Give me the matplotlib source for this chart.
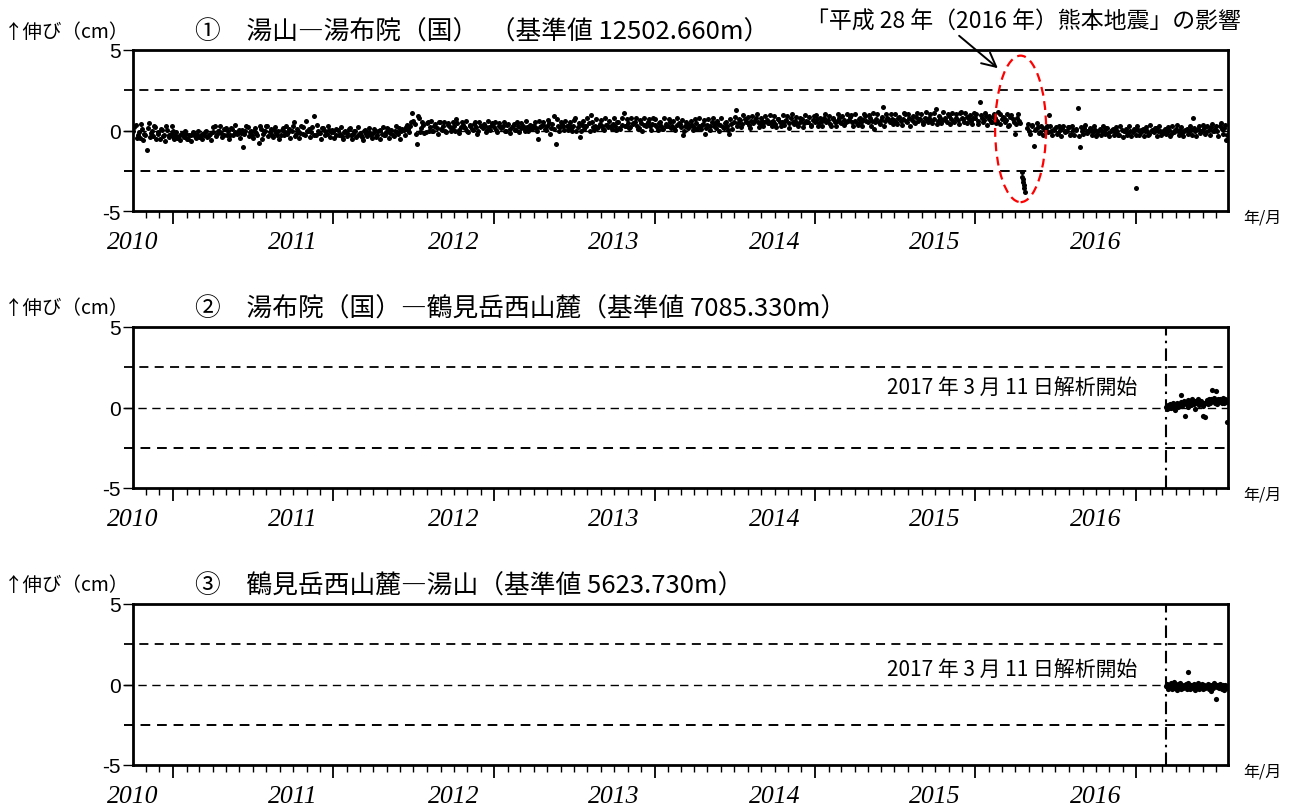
import matplotlib
matplotlib.use("Agg")
import matplotlib.pyplot as plt
import matplotlib.dates as mdates
from matplotlib.patches import Ellipse
from matplotlib.transforms import blended_transform_factory
import datetime as dt
import pandas as pd

plt.rcParams['font.family'] = ['Noto Sans CJK JP', 'DejaVu Sans']

# ---------------- data (extension in cm) ----------------
# panel 1: 湯山―湯布院（国）, one value every 5 days from the start date (series a)
p1_2010_start = '2010-10-03'
p1_2010 = [-0.05, 0.35, -0.3, -0.45, 0.1, -0.2, -1.2, 0.45, -0.15, -0.35, 0.2, -0.1,
           -0.5, 0.05, -0.25, 0.3, -0.4, -0.2, 0.0]
p1_2011_start = '2011-01-01'
p1_2011 = [-0.35, -0.25, -0.45, -0.3, -0.15, -0.4, -0.2, -0.5, -0.3, -0.1, -0.35, -0.25,
           -0.4, -0.2, -0.3, -0.05, -0.35, -0.2,
           -0.1, 0.3, -0.2, 0.0, -0.15, -0.3, 0.15, -0.05, -0.25, 0.1, -0.1, -0.2,
           0.05, -0.15, -1.0, -0.05, 0.2, -0.1,
           -0.3, 0.0, -0.15, -0.75, 0.1, -0.2, -0.05, 0.25, -0.1, -0.25, 0.05, -0.15,
           0.0, -0.3, 0.15, -0.1, -0.2, 0.1,
           -0.05, 0.5, -0.2, 0.0, -0.15, 0.2, -0.3, -0.05, 0.1, -0.1, 0.9, -0.25,
           0.0, -0.15, 0.15, -0.05, -0.2, 0.05, -0.1]
p1_2012_start = '2012-01-01'
p1_2012 = [-0.1, -0.25, 0.05, -0.2, -0.35, -0.1, -0.15, 0.1, -0.3, -0.2, -0.05, -0.25,
           -0.15, -0.4, 0.0, -0.2, -0.1, -0.3,
           -0.15, -0.05, -0.25, 0.05, -0.2, -0.3, -0.1, 0.1, -0.15, -0.25, 0.0, -0.1,
           0.15, -0.05, 0.05, 0.2, 0.1, 0.3,
           1.1, 0.4, -0.85, 0.8, 0.15, 0.35, -0.1, 0.5, 0.2, 0.0, 0.3, 0.15,
           0.55, 0.1, 0.25, -0.05, 0.35, 0.2,
           0.1, 0.3, 0.7, 0.05, 0.2, 0.35, 0.15, -0.05, 0.25, 0.1, 0.4, 0.2,
           0.0, 0.3, 0.15, 0.25, 0.05, 0.2, 0.35]
p1_2013_start = '2013-01-01'
p1_2013 = [0.2, 0.05, 0.3, 0.15, 0.25, 0.0, 0.35, 0.1, 0.2, 0.4, 0.05, 0.25,
           0.15, 0.3, -0.05, 0.2, 0.1, 0.25,
           0.3, 0.15, -0.5, 0.2, 0.35, 0.1, 0.25, 0.45, 0.15, 0.9, -0.85, 0.3,
           0.2, 0.4, 0.05, 0.25, 0.35, 0.15,
           0.3, 0.8, 0.2, -0.4, 0.35, 0.1, 0.25, 0.45, 0.95, 0.2, 0.3, 0.15,
           0.4, 0.25, 0.05, 0.35, 0.2, 0.3,
           0.4, 0.25, 0.5, 0.15, 0.35, 1.1, 0.3, 0.45, 0.2, 0.4, 0.55, 0.3,
           0.15, 0.45, 0.35, 0.25, 0.5, 0.3, 0.4]
p1_2014_start = '2014-01-01'
p1_2014 = [0.35, 0.2, 0.45, 0.3, 0.1, 0.4, 0.25, 0.5, 0.3, 0.15, 0.35, 0.45,
           0.2, -0.3, 0.3, 0.4, 0.25, 0.35,
           0.2, 0.45, 0.3, 0.1, 0.4, -0.2, 0.35, 0.25, 0.5, 0.3, 0.15, 0.4,
           0.35, 0.2, 0.45, 0.3, -0.2, 0.4,
           0.55, 1.25, 0.45, 0.65, 0.4, 0.7, 0.5, 0.35, 0.6, 0.45, 0.75, 0.55,
           0.4, 0.6, 0.5, 0.65, 0.45, 0.55,
           0.6, 0.4, 0.7, 0.5, 0.55, 0.35, 0.65, 0.45, 0.8, 0.5, 0.6, 0.4,
           0.55, 0.7, 0.45, 0.6, 0.5, 0.35, 0.65]
p1_2015_start = '2015-01-01'
p1_2015 = [0.55, 0.7, 0.45, 0.6, 0.8, 0.5, 0.65, 0.4, 0.7, 0.55, 0.6, 0.75,
           0.45, 0.65, 0.5, 0.6, 0.85, 0.55,
           0.6, 0.45, 0.7, 0.55, 0.65, 0.9, 0.5, 0.75, 0.6, 0.1, 0.7, 0.55,
           0.65, 1.45, 0.6, 0.8, 0.5, 0.7,
           0.65, 0.55, 0.8, 0.6, 0.7, 1.0, 0.5, 0.75, 0.65, 0.55, 0.85, 0.6,
           0.7, 0.5, 0.8, 0.65, 0.75, 0.6,
           0.7, 1.35, 0.6, 0.8, 0.65, 0.75, 0.55, 0.9, 0.7, 0.6, 0.8, 0.65,
           1.1, 0.75, 0.55, 0.85, 0.7, 0.6, 0.8]
p1_2016a_start = '2016-01-01'
p1_2016a = [0.75, 0.6, 1.75, 0.8, 0.65, 0.9, 0.7, 0.55, 0.85, 0.75, 0.6, 1.0,
            0.7, 0.8, 0.65, 0.3, 0.85, 0.7, -0.2, 0.75, 0.6]
# daily values right after the 2016 Kumamoto earthquake
p1_quake_start = '2016-04-16'
p1_quake = [-2.6, -2.9, -3.2, -3.0, -3.4, -3.6, -3.85]
p1_2016b_start = '2016-04-28'
p1_2016b = [0.15, 0.0, 0.25, -0.95, 0.1, 0.2, -0.1, 0.15, 0.05, 0.3,
            0.95, -0.05, 0.1, 0.2, -0.15, 0.05, 0.15, -0.1, 0.0, 0.2,
            -0.2, 0.05, 0.1, 1.4, -1.0, -0.05, 0.15, -0.15, 0.0, 0.1,
            -0.1, 0.05, -0.2, 0.1, -0.05, 0.0, 0.15, -0.15, -0.05, 0.1,
            -0.1, 0.0, -0.25, 0.05, -0.05, 0.1, -0.15, 0.0, -0.1, 0.05]
p1_2017_start = '2017-01-01'
p1_2017 = [-3.55, 0.05, -0.1, 0.1, -0.05, 0.0, -0.2, 0.05, -0.1, 0.15,
           -0.05, 0.0, -0.15, 0.1, -0.1, 0.05, -0.2, 0.0, 0.1, -0.05,
           0.05, -0.15, 0.0, 0.1, -0.1, 0.05, 0.8, -0.05, 0.1, -0.15,
           0.0, 0.15, -0.1, 0.05, 0.2, 0.0, 0.1, -0.05, 0.25, 0.1, 0.15, -0.6]

# panel 1, series b: the in-between days (also every 5 days, starting 2 days later)
p1b_2010_start = '2010-10-05'
p1b_2010 = [0.2, -0.45, -0.1, 0.4, -0.6, -0.25, 0.15, -0.4, -0.05, 0.3, -0.55, -0.2,
            0.1, -0.35, -0.65, 0.05, -0.3, 0.25, -0.45]
p1b_2011_start = '2011-01-03'
p1b_2011 = [-0.55, -0.1, -0.4, -0.6, -0.2, -0.05, -0.5, -0.3, -0.65, -0.15, -0.45, 0.0,
            -0.35, -0.55, -0.1, -0.4, -0.25, -0.6,
            0.2, -0.35, -0.05, 0.25, -0.4, 0.1, -0.25, -0.5, 0.15, -0.3, 0.35, -0.15,
            -0.45, 0.05, -0.2, 0.3, -0.35, 0.0,
            -0.45, 0.15, -0.3, 0.25, -0.5, -0.05, 0.3, -0.35, 0.1, -0.4, 0.2, -0.25,
            -0.55, 0.05, -0.3, 0.25, -0.1, -0.45,
            0.25, -0.35, 0.1, -0.45, 0.3, -0.2, 0.6, -0.05, -0.4, 0.2, -0.3, 0.35,
            -0.15, -0.5, 0.15, -0.25, 0.3, -0.4, 0.05]
p1b_2012_start = '2012-01-03'
p1b_2012 = [-0.45, 0.1, -0.3, 0.2, -0.5, -0.05, -0.35, 0.15, -0.55, 0.0, -0.4, 0.2,
            -0.25, -0.6, 0.05, -0.35, 0.15, -0.45,
            0.1, -0.4, -0.05, -0.5, 0.2, -0.3, 0.15, -0.45, 0.05, -0.35, 0.25, -0.2,
            -0.5, 0.1, -0.25, 0.35, -0.1, 0.5,
            0.6, -0.2, 0.9, -0.1, 0.5, -0.15, 0.45, 0.0, 0.6, -0.05, 0.4, -0.2,
            0.5, 0.05, 0.55, -0.1, 0.45, 0.0,
            0.5, -0.05, 0.45, -0.15, 0.55, 0.2, 0.6, -0.1, 0.35, 0.05, 0.5, -0.2,
            0.55, 0.25, 0.4, -0.1, 0.6, 0.05, 0.45]
p1b_2013_start = '2013-01-03'
p1b_2013 = [0.5, -0.1, 0.45, 0.2, 0.55, 0.0, 0.4, -0.15, 0.3, 0.05, 0.55, -0.1,
            0.45, 0.15, 0.6, -0.05, 0.35, 0.1,
            0.55, 0.0, 0.6, 0.25, 0.5, 0.05, 0.65, -0.2, 0.4, 0.1, 0.7, 0.0,
            0.5, 0.3, 0.6, 0.05, 0.55, -0.05,
            0.65, 0.0, 0.45, -0.05, 0.6, 0.3, 0.75, 0.0, 0.55, 0.05, 0.7, 0.2,
            0.65, 0.1, 0.75, 0.35, 0.6, 0.1,
            0.75, 0.05, 0.55, 0.1, 0.8, 0.3, 0.7, 0.15, 0.75, 0.45, 0.8, 0.1,
            0.65, 0.0, 0.75, 0.4, 0.7, 0.05, 0.8]
p1b_2014_start = '2014-01-03'
p1b_2014 = [0.7, 0.05, 0.5, 0.1, 0.75, 0.3, 0.7, 0.15, 0.6, 0.05, 0.75, 0.4,
            0.65, 0.0, 0.55, 0.15, 0.6, 0.05,
            0.7, 0.1, 0.75, 0.35, 0.65, 0.15, 0.7, 0.05, 0.8, 0.45, 0.6, 0.0,
            0.75, 0.15, 0.55, 0.05, 0.7, 0.1,
            0.85, 0.25, 0.7, 0.2, 0.95, 0.5, 0.85, 0.15, 0.9, 0.6, 1.0, 0.2,
            0.75, 0.3, 0.9, 0.45, 0.95, 0.25,
            0.9, 0.2, 0.7, 0.3, 0.95, 0.6, 0.9, 0.15, 1.0, 0.4, 0.85, 0.3,
            0.75, 0.2, 0.95, 0.55, 0.85, 0.3, 0.9]
p1b_2015_start = '2015-01-03'
p1b_2015 = [0.95, 0.3, 0.75, 0.25, 1.0, 0.6, 0.9, 0.3, 0.8, 0.25, 1.05, 0.5,
            0.9, 0.35, 1.0, 0.65, 0.95, 0.3,
            1.0, 0.35, 0.8, 0.3, 1.05, 0.6, 0.95, 0.3, 1.1, 0.5, 1.0, 0.4,
            0.85, 0.3, 1.05, 0.7, 1.0, 0.4,
            1.05, 0.4, 0.85, 0.35, 1.1, 0.6, 1.05, 0.3, 0.9, 0.45, 1.1, 0.7,
            1.05, 0.4, 1.15, 0.55, 1.0, 0.45,
            1.1, 0.4, 0.9, 0.45, 1.15, 0.65, 1.05, 0.4, 1.1, 0.5, 1.0, 0.4,
            1.15, 0.7, 1.1, 0.45, 0.95, 0.4, 1.1]
p1b_2016a_start = '2016-01-03'
p1b_2016a = [1.05, 0.4, 0.95, 0.5, 1.1, 0.35, 0.9, 0.55, 1.0, 0.45, 1.15, 0.4,
             0.85, 0.5, 1.05, 0.35, 0.95, 0.55, 0.4, 1.0, 0.45]
p1b_2016b_start = '2016-04-30'
p1b_2016b = [0.4, -0.2, 0.35, 0.05, 0.45, -0.15, 0.3, -0.25, 0.15, -0.1,
             0.3, -0.3, 0.05, -0.2, 0.25, -0.35, 0.3, 0.0, 0.2, -0.3,
             0.3, -0.25, 0.05, -0.35, 0.2, -0.2, 0.35, -0.05, 0.15, -0.25,
             0.25, -0.35, 0.0, -0.3, 0.3, -0.2, 0.15, -0.35, 0.05, -0.25,
             0.2, -0.3, 0.3, -0.4, 0.0, -0.25, 0.25, -0.35, 0.1, -0.3]
p1b_2017_start = '2017-01-03'
p1b_2017 = [0.3, -0.3, 0.05, -0.35, 0.2, -0.25, 0.35, -0.05, 0.15, -0.35,
            0.25, -0.3, 0.0, -0.2, 0.2, -0.35, 0.25, -0.1, 0.35, -0.25,
            0.2, -0.35, 0.05, -0.2, 0.25, -0.3, 0.15, -0.35, 0.3, 0.0,
            0.35, -0.2, 0.25, -0.3, 0.4, -0.05, 0.3, -0.35, 0.45, -0.2, 0.35, -0.3]

# panels 2 and 3: one value every 2 days since analysis start (2017-03-11)
analysis_start = '2017-03-11'
p2_vals = [0.05, -0.1, 0.15, 0.0, 0.2, -0.05, 0.1, 0.25, 0.0, 0.15, -0.15, 0.1, 0.3, 0.05, 0.2,
           0.15, 0.35, 0.8, 0.1, 0.25, 0.4, -0.5, 0.2, 0.3, 0.05, 0.45, 0.25, 0.35, 0.15, 0.5,
           0.3, 0.2, 0.4, -0.1, 0.35, 0.25, 0.5, 0.15, 0.3, 0.4, 0.2, 0.1, -0.5, 0.25, -0.6,
           0.3, 0.45, 0.2, 0.55, 0.35, 0.25, 0.5, 1.1, 0.4, 0.6, 0.3, 1.0, 0.45, 0.2, 0.5,
           0.35, 0.55, 0.4, 0.3, 0.6, 0.25, 0.45, 0.5, 0.35, -0.9]
p3_vals = [-0.1, 0.05, -0.25, 0.0, -0.15, 0.1, -0.3, -0.05, 0.15, -0.2, 0.0, -0.1, -0.35, 0.05, -0.15,
           0.1, -0.25, -0.05, 0.0, -0.2, -0.1, -0.05, 0.05, -0.3, 0.75, 0.1, -0.05, -0.25, 0.0, -0.1,
           -0.2, 0.05, -0.15, -0.35, 0.0, -0.1, 0.1, -0.25, -0.05, -0.15, 0.05, -0.3, -0.1, 0.0, -0.2,
           -0.1, -0.1, 0.05, -0.25, -0.15, 0.0, -0.4, -0.05, -0.2, 0.1, -0.1, -0.9, 0.0, -0.15, -0.05,
           -0.2, 0.05, -0.1, -0.25, 0.0, -0.15, -0.35, -0.05, -0.1, -0.2]

titles = ['①　湯山―湯布院（国）  （基準値 12502.660m）',
          '②　湯布院（国）―鶴見岳西山麓（基準値 7085.330m）',
          '③　鶴見岳西山麓―湯山（基準値 5623.730m）']
year_labels = ['2010', '2011', '2012', '2013', '2014', '2015', '2016']
quake_note = '「平成 28 年（2016 年）熊本地震」の影響'
start_note = '2017 年 3 月 11 日解析開始'

# ---------------- build series ----------------
def series(start, vals, step):
    return pd.date_range(start, periods=len(vals), freq=step), vals

p1_parts = [series(p1_2010_start, p1_2010, '5D'), series(p1_2011_start, p1_2011, '5D'),
            series(p1_2012_start, p1_2012, '5D'), series(p1_2013_start, p1_2013, '5D'),
            series(p1_2014_start, p1_2014, '5D'), series(p1_2015_start, p1_2015, '5D'),
            series(p1_2016a_start, p1_2016a, '5D'), series(p1_quake_start, p1_quake, '1D'),
            series(p1_2016b_start, p1_2016b, '5D'), series(p1_2017_start, p1_2017, '5D'),
            series(p1b_2010_start, p1b_2010, '5D'), series(p1b_2011_start, p1b_2011, '5D'),
            series(p1b_2012_start, p1b_2012, '5D'), series(p1b_2013_start, p1b_2013, '5D'),
            series(p1b_2014_start, p1b_2014, '5D'), series(p1b_2015_start, p1b_2015, '5D'),
            series(p1b_2016a_start, p1b_2016a, '5D'), series(p1b_2016b_start, p1b_2016b, '5D'),
            series(p1b_2017_start, p1b_2017, '5D')]
p2_dates, _ = series(analysis_start, p2_vals, '2D')
p3_dates, _ = series(analysis_start, p3_vals, '2D')

# ---------------- figure ----------------
W, H = 1297, 812
fig = plt.figure(figsize=(W / 100, H / 100), dpi=100)

ax_left, ax_right = 133, 1228
panel_tops = [51, 328, 605]
panel_h = 161
xmin = dt.datetime(2010, 10, 2)
xmax = dt.datetime(2017, 7, 29)

axes = []
for top in panel_tops:
    ax = fig.add_axes([ax_left / W, 1 - (top + panel_h) / H, (ax_right - ax_left) / W, panel_h / H])
    ax.set_xlim(xmin, xmax)
    ax.set_ylim(-5, 5)
    for sp in ax.spines.values():
        sp.set_linewidth(2.0)
    ax.xaxis.set_major_locator(mdates.YearLocator())
    ax.xaxis.set_minor_locator(mdates.MonthLocator())
    ax.tick_params(axis='x', which='major', length=9.5, width=1.3, direction='out', labelbottom=False)
    ax.tick_params(axis='x', which='minor', length=5, width=1.0, direction='out')
    ax.set_yticks([-5, 0, 5])
    ax.set_yticklabels(['-5', '0', '5'], fontfamily='Liberation Sans', fontsize=15)
    ax.tick_params(axis='y', which='major', length=7, width=1.0, pad=2)
    ax.axhline(2.5, xmin=-0.008, color='black', lw=1.3, ls=(0, (5, 3.5)), clip_on=False, zorder=1)
    ax.axhline(-2.5, xmin=-0.008, color='black', lw=1.4, ls=(0, (5, 3.5)), clip_on=False, zorder=1)
    ax.axhline(0, xmin=-0.008, color='black', lw=1.0, ls=(0, (6, 4)), clip_on=False, zorder=1)

    trans = blended_transform_factory(ax.transData, ax.transAxes)
    for i, lab in enumerate(year_labels):
        ax.text(dt.datetime(2010 + i, 10, 1), -31 / panel_h, lab, transform=trans,
                ha='center', va='center', fontfamily='Liberation Serif', style='italic', fontsize=18.5)
    fig.text(1243 / W, 1 - (top + panel_h + 6) / H, '年/月', fontsize=11.5, ha='left', va='center')
    fig.text(4 / W, 1 - (top - 19) / H, '↑伸び（cm）', fontsize=14, ha='left', va='center')
    axes.append(ax)

for ax, title, top in zip(axes, titles, panel_tops):
    fig.text(195 / W, 1 - (top - 18) / H, title, fontsize=18.5, ha='left', va='center')

# panel 1 scatter
ax1, ax2, ax3 = axes
for d, v in p1_parts:
    ax1.scatter(d, v, s=13, color='black', marker='o', linewidths=0, zorder=3)

quake_c = mdates.date2num(dt.datetime(2016, 4, 13))
ax1.add_patch(Ellipse((quake_c, 0.1), width=116, height=9.1, fill=False, edgecolor='red',
                      lw=1.6, ls=(0, (4, 2.5)), zorder=4))
fig.text(806 / W, 1 - 22 / H, quake_note, fontsize=16.5, ha='left', va='center')
ax1.annotate('', xy=(1000 / W, 1 - 71 / H), xycoords='figure fraction',
             xytext=(957 / W, 1 - 35 / H), textcoords='figure fraction',
             arrowprops=dict(arrowstyle='->', color='black', lw=1.4, mutation_scale=25))

# panels 2 and 3
start_dt = pd.Timestamp(analysis_start)
for ax, d, v, ny in [(ax2, p2_dates, p2_vals, 1.27), (ax3, p3_dates, p3_vals, 0.96)]:
    ax.scatter(d, v, s=14, color='black', marker='o', linewidths=0, zorder=3)
    ax.axvline(start_dt, color='black', lw=1.5, ls=(0, (6, 2.5, 1.2, 2.5)), zorder=2)
    ax.annotate(start_note, xy=(start_dt, ny), xytext=(-21, 0), textcoords='offset points',
                ha='right', va='center', fontsize=15)

fig.savefig('out.png', dpi=100)
